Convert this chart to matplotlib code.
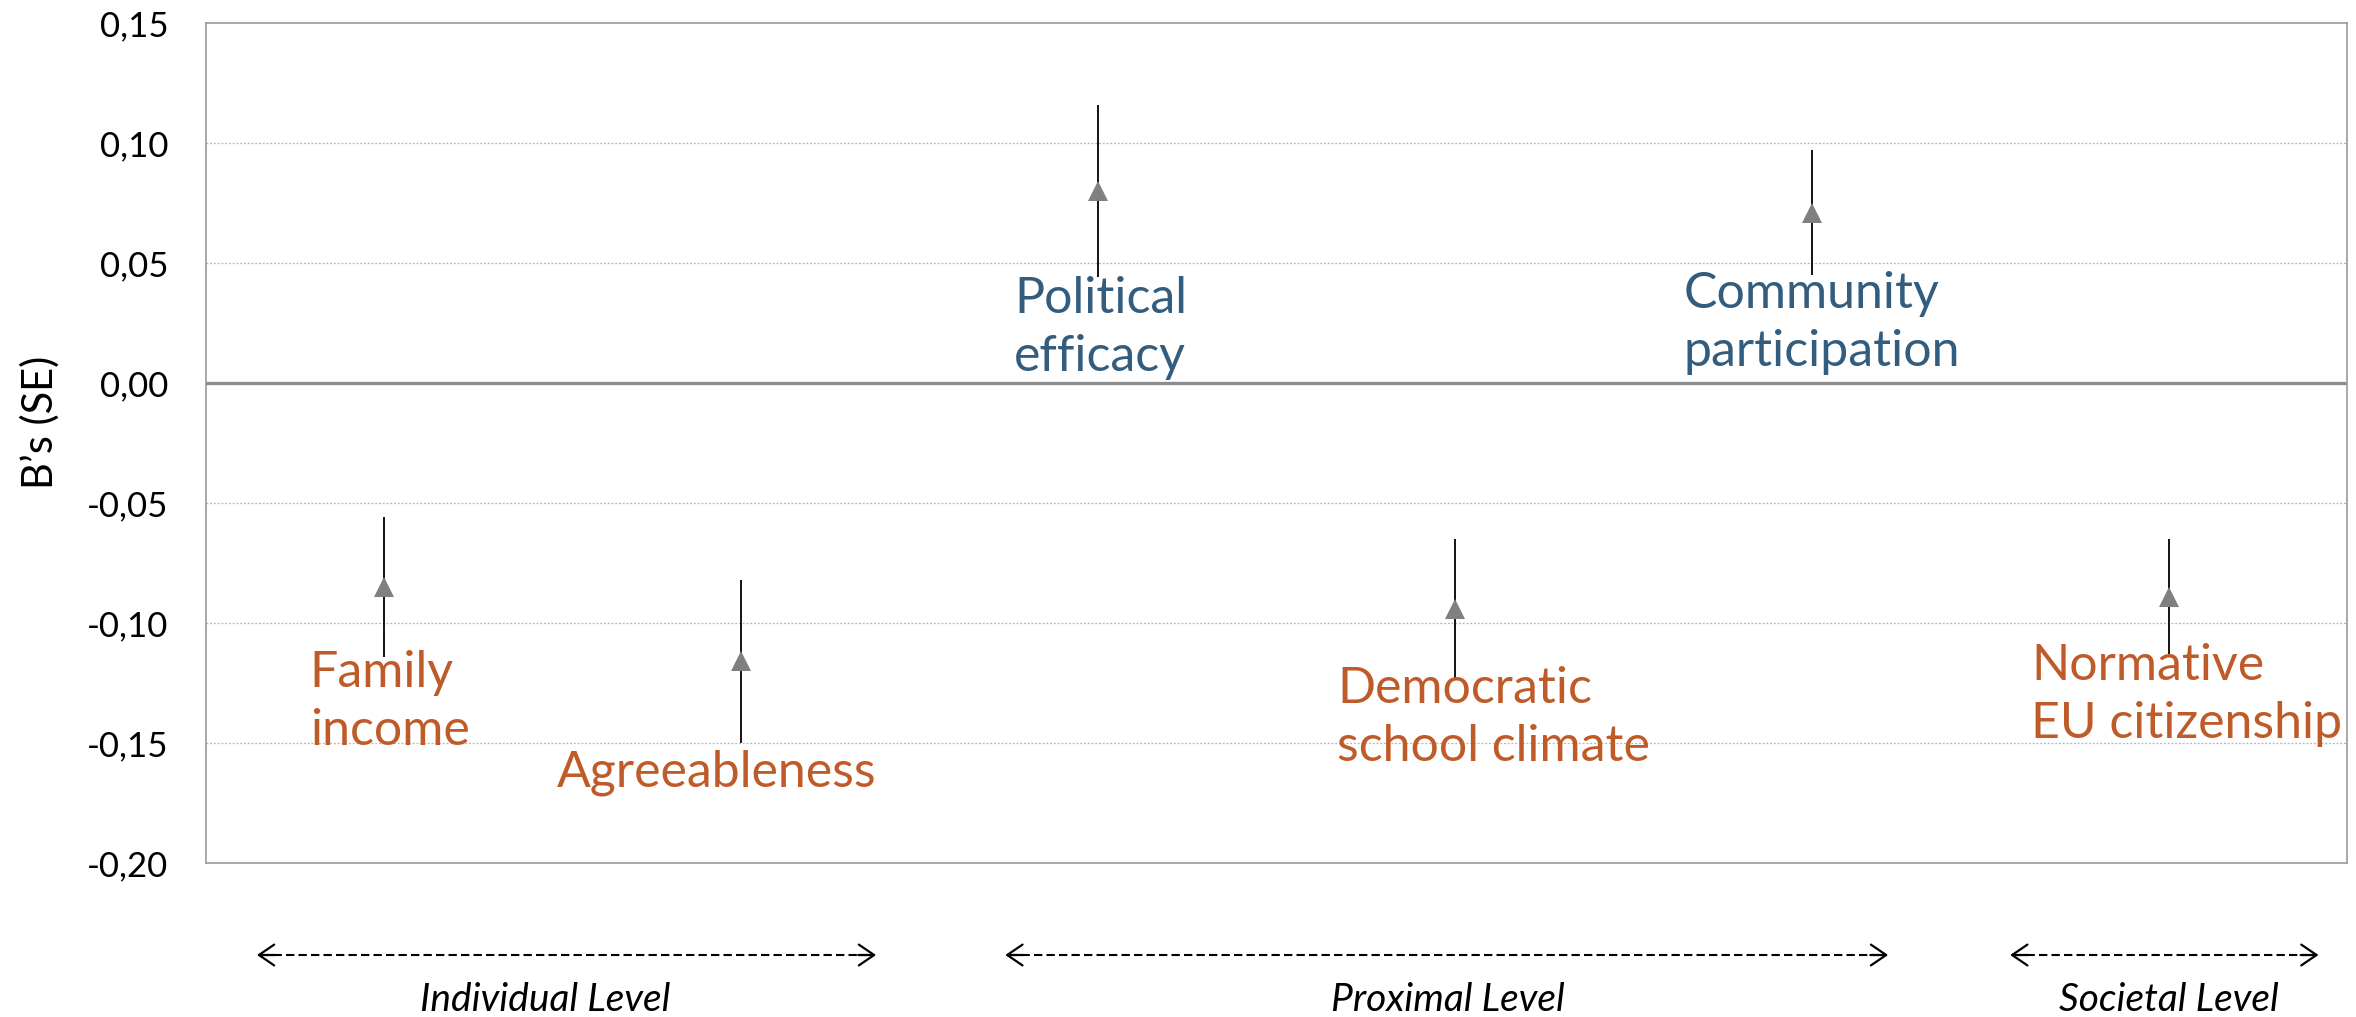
import matplotlib
matplotlib.use("Agg")
import matplotlib.pyplot as plt

plt.rcParams['font.family'] = ['Lato', 'DejaVu Sans']

# Predictors, coefficients and standard errors
categories = ['Family\nincome', 'Agreeableness', 'Political\nefficacy',
              'Democratic\nschool climate', 'Community\nparticipation',
              'Normative\nEU citizenship']
coef = [-0.085, -0.116, 0.080, -0.094, 0.071, -0.089]
se = [0.029, 0.034, 0.036, 0.029, 0.026, 0.024]

y_ticks = [-0.20, -0.15, -0.10, -0.05, 0.00, 0.05, 0.10, 0.15]
y_tick_labels = ['-0,20', '-0,15', '-0,10', '-0,05', '0,00', '0,05', '0,10', '0,15']

level_names = ['Individual Level', 'Proximal Level', 'Societal Level']

# Layout: label anchors (left edge / baseline of last line) and level spans
label_x = [0.791, 1.484, 2.765, 3.670, 4.640, 5.615]
label_y = [-0.151, -0.1683, 0.005, -0.1575, 0.007, -0.148]
level_spans = [(0.643, 2.378), (2.740, 5.214), (5.556, 6.420)]
level_text_x = [1.45, 3.98, 6.0]

ORANGE = '#BE5B28'
BLUE = '#335D7F'

fig = plt.figure(figsize=(23.56, 10.17), dpi=100)
ax = fig.add_axes([0.0874, 0.1514, 0.9088, 0.826])

x = list(range(1, len(categories) + 1))
ax.errorbar(x, coef, yerr=se, fmt='^', color='#808080', markersize=14.4,
            markeredgewidth=0, ecolor='black', elinewidth=1.3, capsize=0,
            zorder=4)

ax.set_xlim(0.5, len(categories) + 0.5)
ax.set_ylim(-0.20, 0.15)
ax.set_yticks(y_ticks)
ax.set_yticklabels(y_tick_labels)
ax.set_xticks([])
ax.tick_params(axis='y', length=0, pad=27, labelsize=25)

for v in y_ticks:
    if v not in (0.0, -0.20, 0.15):
        ax.axhline(v, color='#b4b4b4', lw=0.9, ls=(0, (1.5, 1.5)), zorder=1)
ax.axhline(0.0, color='#8c8c8c', lw=2.4, zorder=2)

for s in ax.spines.values():
    s.set_color('#999999')
    s.set_linewidth(1.2)

for xi, c, lx, ly, name in zip(x, coef, label_x, label_y, categories):
    ax.text(lx, ly, name, ha='left', va='baseline', fontsize=36,
            color=BLUE if c > 0 else ORANGE, linespacing=1.33, zorder=5)

fig.text(40 / 2356, 1 - 422 / 1017, 'B\u2019s (SE)', rotation=90,
         ha='center', va='center', fontsize=30)

# Level arrows beneath the axis
tr = ax.get_xaxis_transform()
arrow_y = -0.1095
for (x0, x1), name, tx in zip(level_spans, level_names, level_text_x):
    ax.plot([x0 + 0.01, x1 - 0.01], [arrow_y, arrow_y], transform=tr,
            color='black', lw=1.5, ls=(0, (4, 2)), clip_on=False)
    for tip, tail in ((x0, x0 + 0.05), (x1, x1 - 0.05)):
        ax.annotate('', xy=(tip, arrow_y), xytext=(tail, arrow_y),
                    xycoords=tr, textcoords=tr,
                    arrowprops=dict(arrowstyle='->,head_length=1.1,head_width=0.75',
                                    color='black', lw=1.6,
                                    shrinkA=0, shrinkB=0))
    ax.text(tx, -0.1762, name, transform=tr, ha='center', va='baseline',
            fontsize=28, style='italic')

fig.savefig('out.png', dpi=100, facecolor='white')
